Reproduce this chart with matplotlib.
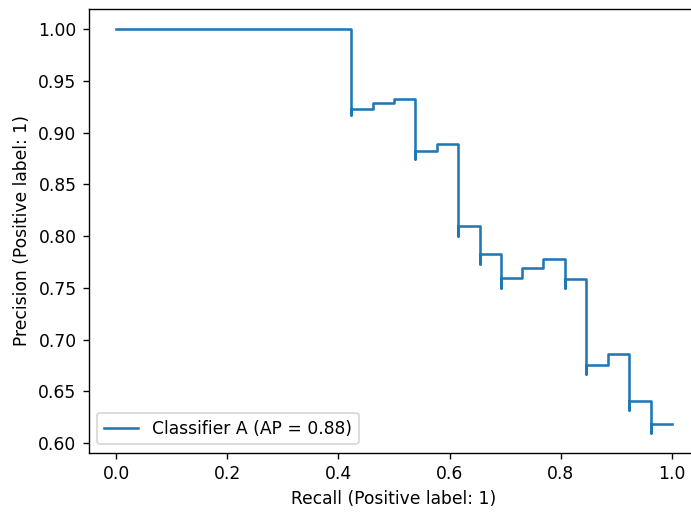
import matplotlib
matplotlib.use("Agg")
import matplotlib.pyplot as plt

# precision-recall curve points, recall descending (as sklearn returns them)
recall = [1.000, 0.962, 0.962, 0.923, 0.923, 0.885, 0.846, 0.846, 0.808, 0.808,
          0.769, 0.731, 0.692, 0.692, 0.654, 0.654, 0.615, 0.615, 0.577, 0.538,
          0.538, 0.500, 0.462, 0.423, 0.423, 0.000]
precision = [0.619, 0.610, 0.641, 0.632, 0.686, 0.676, 0.667, 0.759, 0.750, 0.778,
             0.769, 0.760, 0.750, 0.783, 0.773, 0.810, 0.800, 0.889, 0.882, 0.875,
             0.933, 0.929, 0.923, 0.917, 1.000, 1.000]
label = "Classifier A (AP = 0.88)"

DPI = 123
fig = plt.figure(figsize=(691 / DPI, 518 / DPI), dpi=DPI)
# right spine falls just outside the picture, as in the cropped original
ax = fig.add_axes([88.5 / 691, 65 / 518, 611 / 691, 444 / 518])

ax.plot(recall, precision, drawstyle="steps-post", label=label)
ax.set_xlabel("Recall (Positive label: 1)")
ax.set_ylabel("Precision (Positive label: 1)")
ax.legend(loc="lower left")

fig.savefig("out.png", dpi=DPI)
